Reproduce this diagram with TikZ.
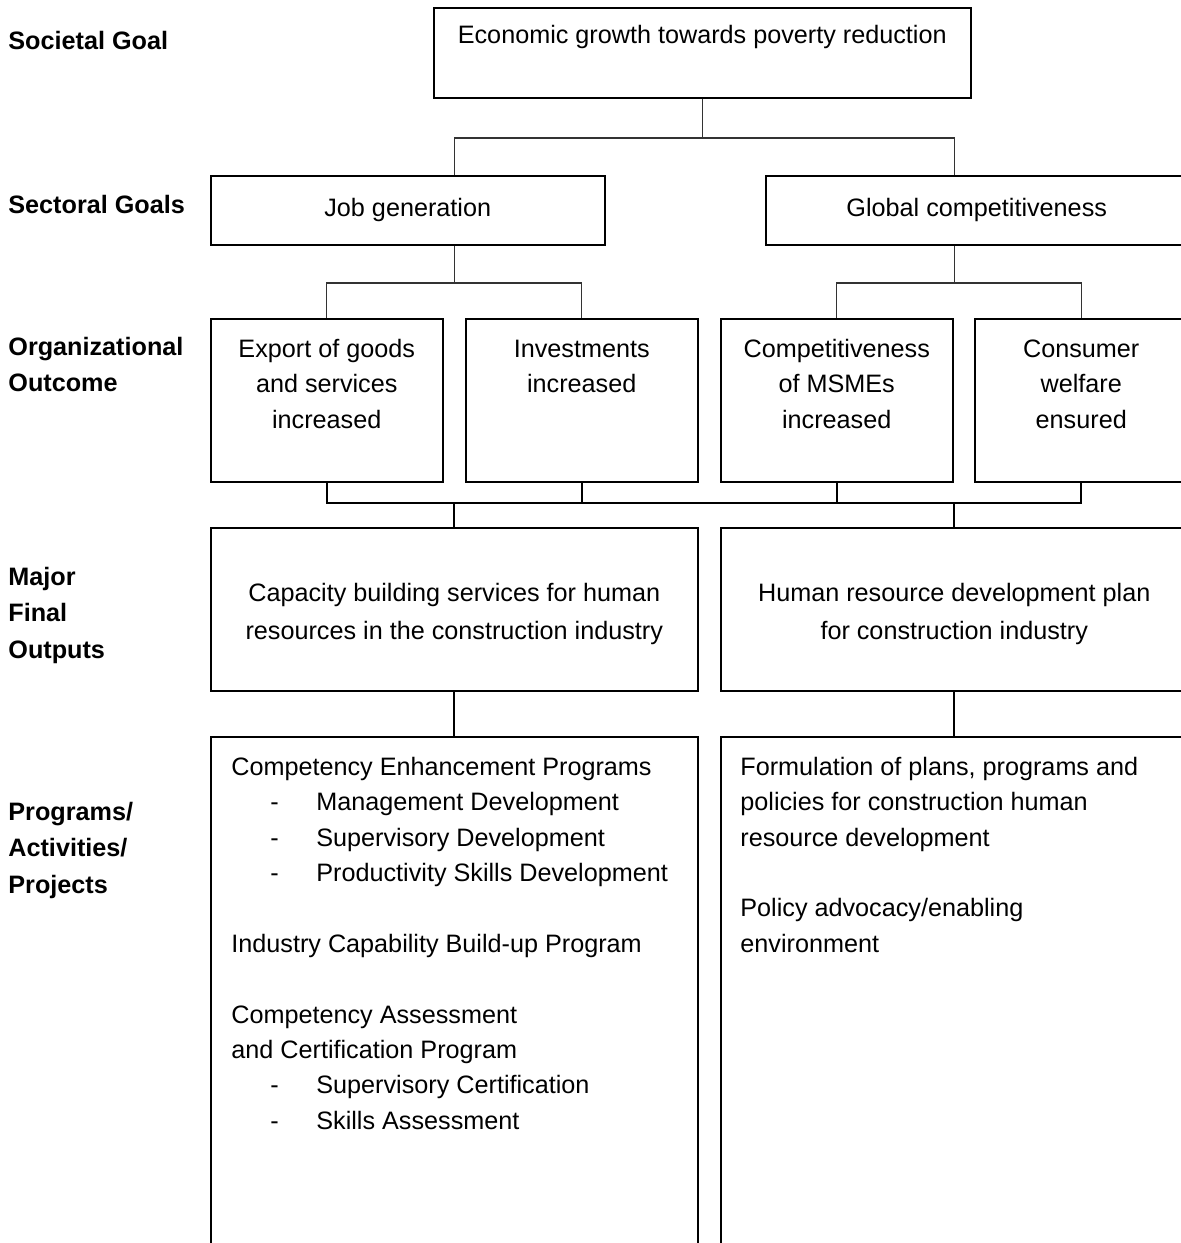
\documentclass[tikz,border=0pt]{standalone}
\usepackage{fontspec}
\setmainfont{Liberation Sans}
\usetikzlibrary{positioning}

\newcommand{\dashitem}[1]{\hspace*{19.5pt}\makebox[23pt][l]{-}#1}

\begin{document}
\begin{tikzpicture}[x=0.5pt,y=-0.5pt,
  box/.style={draw,line width=0.75pt,anchor=north west,inner sep=0pt},
  txt/.style={inner sep=0pt,font=\fontsize{12.6}{17.7}\selectfont},
  lbl/.style={inner sep=0pt,anchor=north west,align=left,font=\fontsize{12.6}{18.25}\selectfont\bfseries},
  link/.style={line width=0.55pt,black!80},
  bus/.style={line width=0.9pt}]

\useasboundingbox (0,0) rectangle (1181,1243);
\clip (0,0) rectangle (1181,1243);

% level labels
\node[lbl] (lsoc) at (8,24) {\strut Societal Goal};
\node[lbl] (lsec) at (8,187.5) {\strut Sectoral Goals};
\node[lbl] (lorg) at (8,329.5) {\strut Organizational\\Outcome};
\node[lbl] (lmfo) at (8,559.5) {\strut Major\\Final\\Outputs};
\node[lbl] (lpap) at (8,794.5) {\strut Programs/\\Activities/\\Projects};

% boxes
\node[box,minimum width=268.5pt,minimum height=45pt] (eco) at (433,7) {};
\node[box,txt,minimum width=197pt,minimum height=34.5pt] (job) at (210,175) {Job generation};
\node[box,txt,minimum width=211pt,minimum height=34.5pt] (glob) at (765,175) {Global competitiveness};

\foreach \n/\x in {org1/210,org2/465,org3/720}
  \node[box,minimum width=116pt,minimum height=81.5pt] (\n) at (\x,318) {};
\node[box,minimum width=106.5pt,minimum height=81.5pt] (org4) at (974,318) {};

\node[box,minimum width=243.5pt,minimum height=81.5pt] (mfo1) at (210,527) {};
\node[box,minimum width=233.5pt,minimum height=81.5pt] (mfo2) at (720,527) {};

\node[box,minimum width=243.5pt,minimum height=262pt] (pap1) at (210,736) {};
\node[box,minimum width=233.5pt,minimum height=262pt] (pap2) at (720,736) {};

% box texts
\node[txt,align=center,below=5.6pt of eco.north] (ecot) {\strut Economic growth towards poverty reduction};

\node[txt,align=center,below=7.1pt of org1.north] (org1t) {\strut Export of goods\\and services\\increased};
\node[txt,align=center,below=7.1pt of org2.north] (org2t) {\strut Investments\\increased};
\node[txt,align=center,below=7.1pt of org3.north] (org3t) {\strut Competitiveness\\of MSMEs\\increased};
\node[txt,align=center,below=7.1pt of org4.north] (org4t) {\strut Consumer\\welfare\\ensured};

\node[txt,align=center,below=24.6pt of mfo1.north] (mfo1t) {\strut Capacity building services for human\\[1.5pt]resources in the construction industry};
\node[txt,align=center,below=24.6pt of mfo2.north] (mfo2t) {\strut Human resource development plan\\[1.5pt]for construction industry};

\node[txt,align=left,below right=7.1pt and 10.5pt of pap1.north west] (pap1t) {\strut Competency Enhancement Programs\\
  \dashitem{Management Development}\\
  \dashitem{Supervisory Development}\\
  \dashitem{Productivity Skills Development}\\[17.7pt]
  Industry Capability Build-up Program\\[17.7pt]
  Competency Assessment\\
  and Certification Program\\
  \dashitem{Supervisory Certification}\\
  \dashitem{Skills Assessment}};
\node[txt,align=left,below right=7.1pt and 10pt of pap2.north west] (pap2t) {\strut Formulation of plans, programs and\\
  policies for construction human\\
  resource development\\[17.7pt]
  Policy advocacy/enabling\\
  environment};

% connectors
\coordinate (busA) at (0,138);
\coordinate (busB) at (0,283);
\coordinate (busC) at (0,503);

\draw[link] (eco.south) -- (eco.south |- busA);
\draw[link] (mfo1 |- job.north) |- (mfo2 |- busA) -- (mfo2 |- glob.north);

\draw[link] (mfo1 |- job.south) -- (mfo1 |- busB);
\draw[link] (org1.north) |- (org2 |- busB) -- (org2.north);
\draw[link] (mfo2 |- glob.south) -- (mfo2 |- busB);
\draw[link] (org3.north) |- (org4 |- busB) -- (org4.north);

\draw[bus] (org1.south) |- (org4 |- busC) -- (org4.south);
\foreach \o in {org2,org3}
  \draw[bus] (\o.south) -- (\o |- busC);
\draw[bus] (mfo1 |- busC) -- (mfo1.north);
\draw[bus] (mfo2 |- busC) -- (mfo2.north);

\draw[bus] (mfo1.south) -- (pap1.north);
\draw[bus] (mfo2.south) -- (pap2.north);

\end{tikzpicture}
\end{document}
